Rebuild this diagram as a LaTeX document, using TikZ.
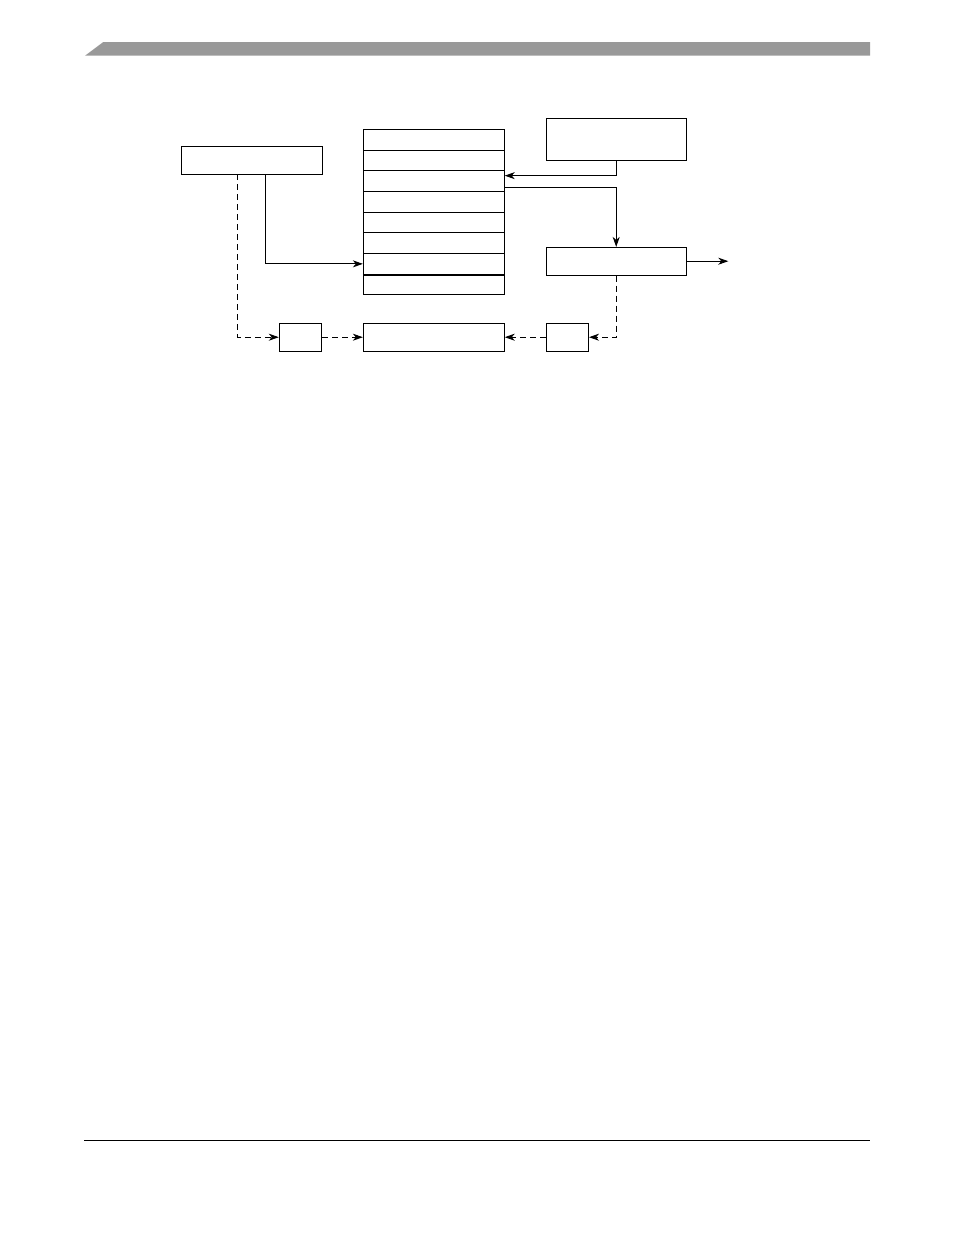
\documentclass[tikz,border=0pt]{standalone}
\usepackage{tikz}
\usetikzlibrary{positioning,arrows.meta}
\definecolor{hdrgray}{RGB}{153,153,153}

\begin{document}
\begin{tikzpicture}[x=1pt, y=-1pt, line width=0.9pt,
    blk/.style={draw, inner sep=0pt, minimum width=141pt, minimum height=27.7pt},
    sblk/.style={draw, inner sep=0pt, minimum width=42.5pt, minimum height=27.7pt},
    arr/.style={-{Stealth[length=10pt, width=7pt, inset=3pt]}},
    dsh/.style={arr, dash pattern=on 6pt off 4pt}]
    \useasboundingbox (0,0) rectangle (954,1235);

    % Header bar and footer rule
    \fill[hdrgray] (85,55.7) -- (103.3,42) -- (870,42) -- (870,55.7) -- cycle;
    \draw[line width=1pt] (84,1140.3) -- (870,1140.3);

    % Boxes
    \node[blk, minimum height=28pt] (src) at (251.5,160) {};
    \foreach \i in {1,...,8}
        \node[blk, minimum height=20.7pt] (r\i) at (433.8,{129.3+20.7*(\i-0.5)}) {};
    \draw[line width=1.8pt] (r7.south west) -- (r7.south east);
    \node[blk, minimum width=140pt, minimum height=42pt] (tr) at (616.2,139.3) {};
    \node[blk, minimum width=140pt] (mr) at (616.2,261.2) {};
    \node[sblk] (sa) at (300.5,337.2) {};
    \node[blk] (wide) at (433.8,337.2) {};
    \node[sblk] (sb) at (567.3,337.2) {};
    \coordinate (out) at (728.3,261.2);

    % Solid paths
    \draw[arr] ([xshift=14.2pt]src.south) |- (r7.west);
    \draw[arr] (tr.south) |- ([yshift=5.4pt]r3.east);
    \draw[arr] ([yshift=-6.2pt]r3.east) -| (mr.north);
    \draw[arr] (mr.east) -- (out);

    % Dashed paths
    \draw[dsh] ([xshift=-13.8pt]src.south) |- (sa.west);
    \draw[dsh] (sa.east) -- (wide.west);
    \draw[dsh] (mr.south) |- (sb.east);
    \draw[dsh] (sb.west) -- (wide.east);

\end{tikzpicture}
\end{document}
